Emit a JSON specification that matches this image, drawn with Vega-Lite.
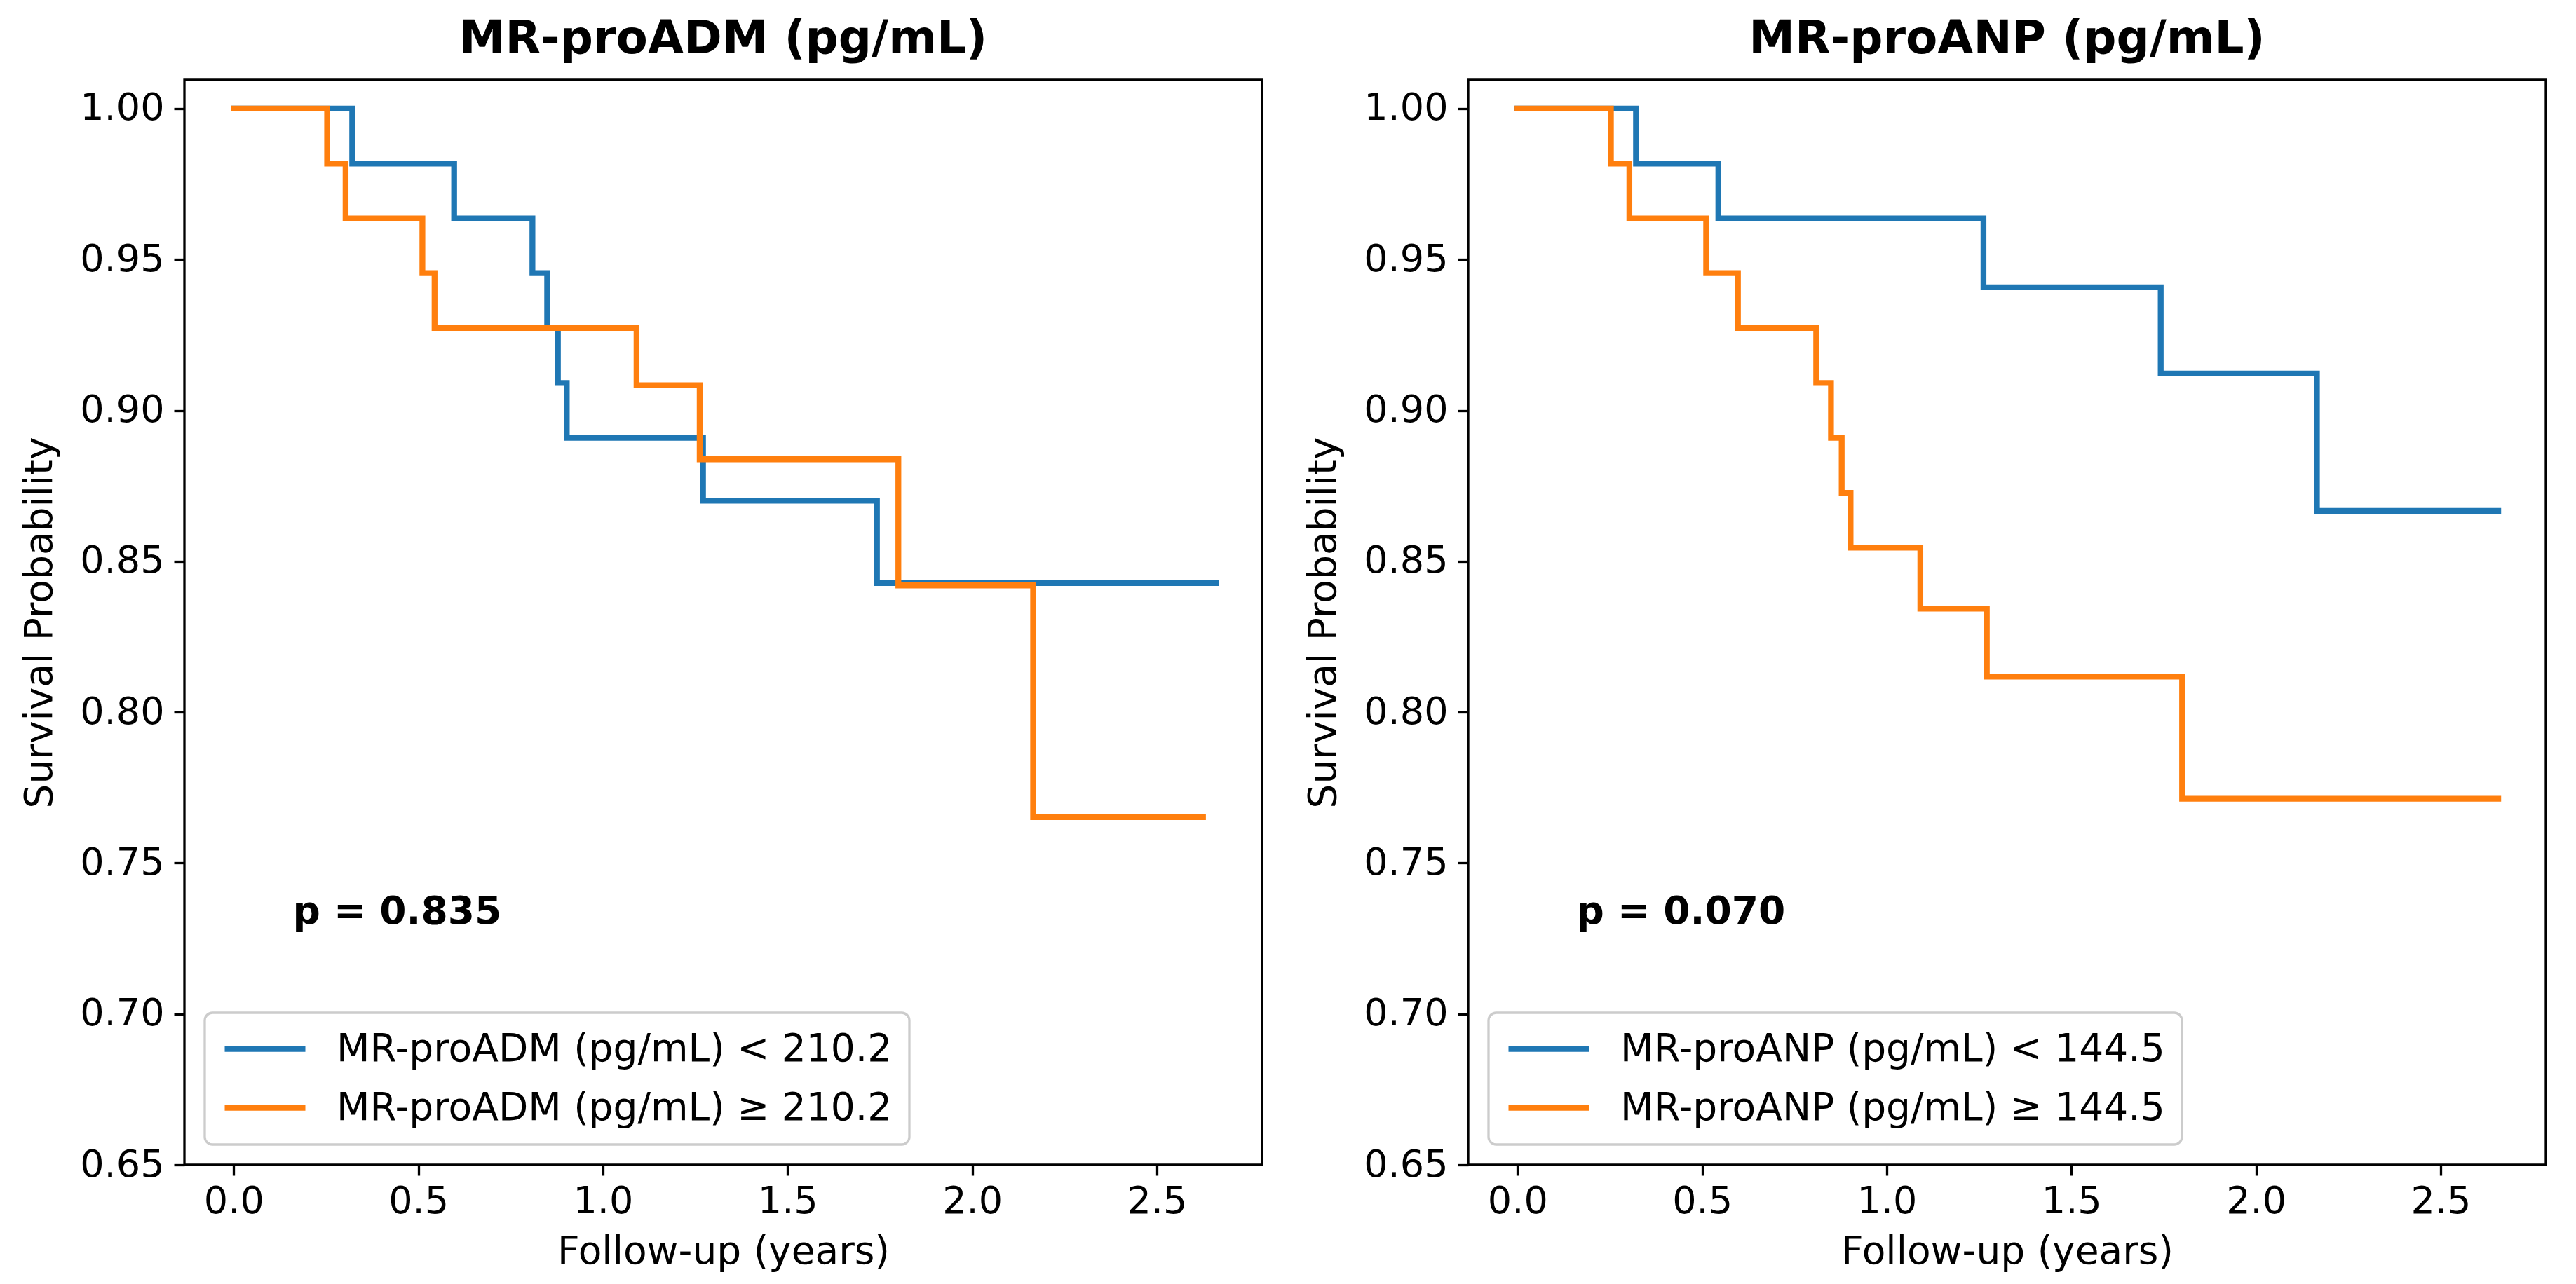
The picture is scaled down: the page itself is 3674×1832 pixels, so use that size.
{
  "$schema": "https://vega.github.io/schema/vega-lite/v6.json",
  "description": "Kaplan-Meier curves for MR-proADM and MR-proANP groups",
  "padding": {"left": 28, "top": 21, "right": 42, "bottom": 24},
  "background": "white",
  "hconcat": [
    {
      "width": 1537,
      "height": 1548,
      "title": {"text": "MR-proADM (pg/mL)"},
      "layer": [
        {
          "data": {"values": [
            {"group": "MR-proADM (pg/mL) < 210.2", "t": 0, "s": 1},
            {"group": "MR-proADM (pg/mL) < 210.2", "t": 0.321, "s": 0.9818},
            {"group": "MR-proADM (pg/mL) < 210.2", "t": 0.597, "s": 0.9636},
            {"group": "MR-proADM (pg/mL) < 210.2", "t": 0.809, "s": 0.9455},
            {"group": "MR-proADM (pg/mL) < 210.2", "t": 0.849, "s": 0.9273},
            {"group": "MR-proADM (pg/mL) < 210.2", "t": 0.878, "s": 0.9091},
            {"group": "MR-proADM (pg/mL) < 210.2", "t": 0.902, "s": 0.8909},
            {"group": "MR-proADM (pg/mL) < 210.2", "t": 1.271, "s": 0.8701},
            {"group": "MR-proADM (pg/mL) < 210.2", "t": 1.742, "s": 0.8428},
            {"group": "MR-proADM (pg/mL) < 210.2", "t": 2.66, "s": 0.8428},
            {"group": "MR-proADM (pg/mL) ≥ 210.2", "t": 0, "s": 1},
            {"group": "MR-proADM (pg/mL) ≥ 210.2", "t": 0.253, "s": 0.9818},
            {"group": "MR-proADM (pg/mL) ≥ 210.2", "t": 0.303, "s": 0.9636},
            {"group": "MR-proADM (pg/mL) ≥ 210.2", "t": 0.511, "s": 0.9455},
            {"group": "MR-proADM (pg/mL) ≥ 210.2", "t": 0.544, "s": 0.9273},
            {"group": "MR-proADM (pg/mL) ≥ 210.2", "t": 1.091, "s": 0.9083},
            {"group": "MR-proADM (pg/mL) ≥ 210.2", "t": 1.262, "s": 0.8838},
            {"group": "MR-proADM (pg/mL) ≥ 210.2", "t": 1.8, "s": 0.842},
            {"group": "MR-proADM (pg/mL) ≥ 210.2", "t": 2.165, "s": 0.7652},
            {"group": "MR-proADM (pg/mL) ≥ 210.2", "t": 2.625, "s": 0.7652}
          ]},
          "mark": {"type": "line", "interpolate": "step-after", "strokeWidth": 8.3, "strokeCap": "square"},
          "encoding": {
            "x": {"field": "t", "type": "quantitative",
              "scale": {"domain": [-0.1335, 2.785], "nice": false, "zero": false},
              "axis": {"title": "Follow-up (years)", "values": [0, 0.5, 1, 1.5, 2, 2.5], "format": ".1f"}},
            "y": {"field": "s", "type": "quantitative",
              "scale": {"domain": [0.65, 1.0095], "nice": false, "zero": false},
              "axis": {"title": "Survival Probability", "values": [0.65, 0.7, 0.75, 0.8, 0.85, 0.9, 0.95, 1.0], "format": ".2f"}},
            "color": {"field": "group", "type": "nominal",
              "scale": {"domain": ["MR-proADM (pg/mL) < 210.2", "MR-proADM (pg/mL) ≥ 210.2"], "range": ["#1f77b4", "#ff7f0e"]},
              "legend": {"title": null}}
          }
        },
        {
          "data": {"values": [{"t": 0.16, "s": 0.7298, "label": "p = 0.835"}]},
          "mark": {"type": "text", "align": "left", "baseline": "alphabetic", "fontWeight": "bold", "fontSize": 55, "color": "black"},
          "encoding": {
            "x": {"field": "t", "type": "quantitative"},
            "y": {"field": "s", "type": "quantitative"},
            "text": {"field": "label"}
          }
        }
      ]
    },
    {
      "width": 1537,
      "height": 1548,
      "title": {"text": "MR-proANP (pg/mL)"},
      "layer": [
        {
          "data": {"values": [
            {"group": "MR-proANP (pg/mL) < 144.5", "t": 0, "s": 1},
            {"group": "MR-proANP (pg/mL) < 144.5", "t": 0.321, "s": 0.9818},
            {"group": "MR-proANP (pg/mL) < 144.5", "t": 0.544, "s": 0.9636},
            {"group": "MR-proANP (pg/mL) < 144.5", "t": 1.262, "s": 0.9408},
            {"group": "MR-proANP (pg/mL) < 144.5", "t": 1.742, "s": 0.9122},
            {"group": "MR-proANP (pg/mL) < 144.5", "t": 2.165, "s": 0.8667},
            {"group": "MR-proANP (pg/mL) < 144.5", "t": 2.656, "s": 0.8667},
            {"group": "MR-proANP (pg/mL) ≥ 144.5", "t": 0, "s": 1},
            {"group": "MR-proANP (pg/mL) ≥ 144.5", "t": 0.253, "s": 0.9818},
            {"group": "MR-proANP (pg/mL) ≥ 144.5", "t": 0.303, "s": 0.9636},
            {"group": "MR-proANP (pg/mL) ≥ 144.5", "t": 0.511, "s": 0.9455},
            {"group": "MR-proANP (pg/mL) ≥ 144.5", "t": 0.597, "s": 0.9273},
            {"group": "MR-proANP (pg/mL) ≥ 144.5", "t": 0.809, "s": 0.9091},
            {"group": "MR-proANP (pg/mL) ≥ 144.5", "t": 0.849, "s": 0.8909},
            {"group": "MR-proANP (pg/mL) ≥ 144.5", "t": 0.878, "s": 0.8727},
            {"group": "MR-proANP (pg/mL) ≥ 144.5", "t": 0.902, "s": 0.8545},
            {"group": "MR-proANP (pg/mL) ≥ 144.5", "t": 1.091, "s": 0.8343},
            {"group": "MR-proANP (pg/mL) ≥ 144.5", "t": 1.271, "s": 0.8118},
            {"group": "MR-proANP (pg/mL) ≥ 144.5", "t": 1.8, "s": 0.7713},
            {"group": "MR-proANP (pg/mL) ≥ 144.5", "t": 2.656, "s": 0.7713}
          ]},
          "mark": {"type": "line", "interpolate": "step-after", "strokeWidth": 8.3, "strokeCap": "square"},
          "encoding": {
            "x": {"field": "t", "type": "quantitative",
              "scale": {"domain": [-0.1335, 2.785], "nice": false, "zero": false},
              "axis": {"title": "Follow-up (years)", "values": [0, 0.5, 1, 1.5, 2, 2.5], "format": ".1f"}},
            "y": {"field": "s", "type": "quantitative",
              "scale": {"domain": [0.65, 1.0095], "nice": false, "zero": false},
              "axis": {"title": "Survival Probability", "values": [0.65, 0.7, 0.75, 0.8, 0.85, 0.9, 0.95, 1.0], "format": ".2f"}},
            "color": {"field": "group", "type": "nominal",
              "scale": {"domain": ["MR-proANP (pg/mL) < 144.5", "MR-proANP (pg/mL) ≥ 144.5"], "range": ["#1f77b4", "#ff7f0e"]},
              "legend": {"title": null}}
          }
        },
        {
          "data": {"values": [{"t": 0.16, "s": 0.7298, "label": "p = 0.070"}]},
          "mark": {"type": "text", "align": "left", "baseline": "alphabetic", "fontWeight": "bold", "fontSize": 55, "color": "black"},
          "encoding": {
            "x": {"field": "t", "type": "quantitative"},
            "y": {"field": "s", "type": "quantitative"},
            "text": {"field": "label"}
          }
        }
      ]
    }
  ],
  "spacing": 294,
  "bounds": "flush",
  "resolve": {
    "scale": {"color": "independent", "x": "independent", "y": "independent"},
    "legend": {"color": "independent"}
  },
  "config": {
    "font": "DejaVu Sans",
    "view": {"stroke": "black", "strokeWidth": 3.3},
    "axis": {
      "domain": false, "grid": false,
      "tickColor": "black", "tickWidth": 3.3, "tickSize": 15,
      "labelFontSize": 54, "labelColor": "black", "labelPadding": 14,
      "titleFontSize": 55, "titleFontWeight": "normal", "titleColor": "black"
    },
    "axisX": {"labelPadding": 10, "titlePadding": 18},
    "axisY": {"titlePadding": 28},
    "title": {"fontSize": 66, "fontWeight": "bold", "color": "black", "offset": 24, "baseline": "alphabetic", "anchor": "middle"},
    "legend": {
      "orient": "bottom-left", "offset": 29, "padding": 24,
      "fillColor": "rgba(255,255,255,0.8)", "strokeColor": "#cccccc", "strokeWidth": 3.3, "cornerRadius": 11,
      "symbolType": "stroke", "symbolSize": 13225, "symbolStrokeWidth": 8.3, "clipHeight": 55,
      "rowPadding": 28, "labelFontSize": 55, "labelColor": "black", "labelOffset": 40, "labelLimit": 2000
    }
  }
}
